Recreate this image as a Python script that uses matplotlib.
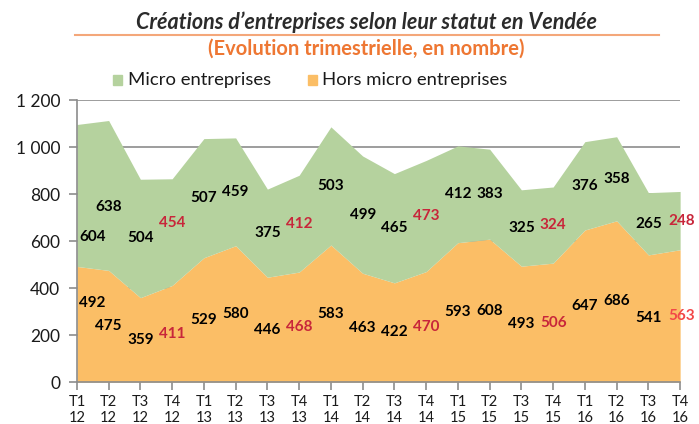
import matplotlib.pyplot as plt
import numpy as np

# data
quarters = ['T1\n12', 'T2\n12', 'T3\n12', 'T4\n12', 'T1\n13', 'T2\n13', 'T3\n13', 'T4\n13',
            'T1\n14', 'T2\n14', 'T3\n14', 'T4\n14', 'T1\n15', 'T2\n15', 'T3\n15', 'T4\n15',
            'T1\n16', 'T2\n16', 'T3\n16', 'T4\n16']
hors_micro = [492, 475, 359, 411, 529, 580, 446, 468, 583, 463, 422, 470,
              593, 608, 493, 506, 647, 686, 541, 563]
micro = [604, 638, 504, 454, 507, 459, 375, 412, 503, 499, 465, 473,
         412, 383, 325, 324, 376, 358, 265, 248]

GREEN = '#B5D29E'
ORANGE = '#FBBE66'
RED = '#C8263A'
GRID = '#8C8C8C'
FONT = 'Lato'

plt.rcParams['font.family'] = [FONT, 'DejaVu Sans']

fig = plt.figure(figsize=(6.99, 4.24), dpi=100)
ax = fig.add_axes([0.110, 0.099, 0.863, 0.665])

x = np.arange(len(quarters))
ho = np.array(hors_micro)
mi = np.array(micro)
ax.fill_between(x, 0, ho, color=ORANGE, lw=0, zorder=2)
ax.fill_between(x, ho, ho + mi, color=GREEN, lw=0, zorder=2)

# label positions: middle of each band, first points nudged as in the original
lab_ho = ho / 2.0
lab_mi = ho + mi / 2.0
lab_ho[0] = 336
lab_mi[0] = 617
lab_mi[1] = 745
lab_mi[3] = 677
for i in range(len(x)):
    col = RED if quarters[i].startswith('T4') else 'black'
    dx = 0.48 if i == 0 else (0.06 if i == len(x) - 1 else 0)
    ax.text(x[i] + dx, lab_ho[i], str(hors_micro[i]), ha='center', va='center',
            fontsize=11, fontweight='bold', color=('#F24848' if i == len(x) - 1 else col), zorder=5)
    ax.text(x[i] + dx, lab_mi[i], str(micro[i]), ha='center', va='center',
            fontsize=11, fontweight='bold', color=col, zorder=5)

ax.set_xlim(0, len(x) - 1)
ax.set_ylim(0, 1200)
ax.set_yticks(range(0, 1201, 200))
ax.set_yticklabels(['0', '200', '400', '600', '800', '1 000', '1 200'], fontsize=12.5)
ax.set_xticks(x)
ax.set_xticklabels(quarters, fontsize=10.5, linespacing=1.25)
ax.yaxis.grid(True, color=GRID, lw=1.2, zorder=1)
ax.set_axisbelow(True)
for s in ['top', 'right']:
    ax.spines[s].set_visible(False)
for s in ['left', 'bottom']:
    ax.spines[s].set_color(GRID)
    ax.spines[s].set_linewidth(1.2)
ax.tick_params(axis='both', color=GRID, width=1.2, length=6, colors='black')
ax.tick_params(axis='y', pad=6)
ax.tick_params(axis='x', pad=3)
for t in ax.get_xticklabels() + ax.get_yticklabels():
    t.set_color('#1a1a1a')

# titles
fig.text(0.524, 0.948, 'Créations d\u2019entreprises selon leur statut en Vendée', ha='center',
         va='center', fontsize=15.5, fontweight='bold', style='italic', color='#2b2b2b')
fig.add_artist(plt.Line2D([0.107, 0.943], [0.917, 0.917], color='#F4A77A', lw=1.5))
fig.text(0.524, 0.886, '(Evolution trimestrielle, en nombre)', ha='center', va='center',
         fontsize=14.5, fontweight='bold', color='#EE7733')

# legend
fig.patches.append(plt.Rectangle((0.161, 0.800), 0.014, 0.023, transform=fig.transFigure,
                                 color=GREEN))
fig.text(0.183, 0.811, 'Micro entreprises', va='center', fontsize=13.3, color='#1a1a1a')
fig.patches.append(plt.Rectangle((0.440, 0.800), 0.014, 0.023, transform=fig.transFigure,
                                 color=ORANGE))
fig.text(0.461, 0.811, 'Hors micro entreprises', va='center', fontsize=13.3, color='#1a1a1a')

fig.savefig('out.png', dpi=100)
